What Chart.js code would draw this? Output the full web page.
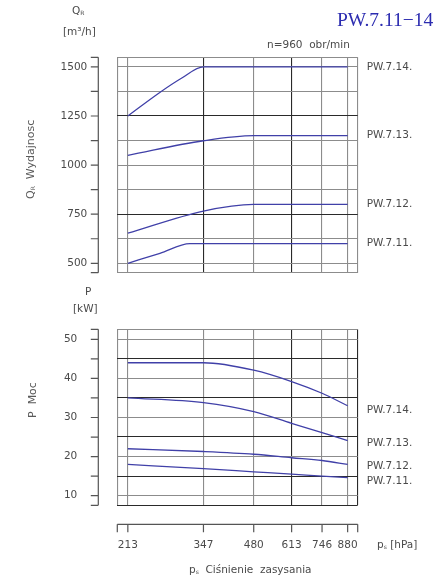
<!DOCTYPE html>
<html>
<head>
<meta charset="utf-8">
<script src="https://cdn.jsdelivr.net/npm/chart.js@4/dist/chart.umd.min.js"></script>
<style>
body{margin:0;background:#fff;width:443px;height:580px;overflow:hidden;position:relative;font-family:"DejaVu Sans",sans-serif;color:#4a4a4a}
canvas{position:absolute;left:0;top:0}
.t{position:absolute;font-size:10.5px;white-space:nowrap;line-height:1}
.t sub{font-size:6px;vertical-align:-1px}
.rot{transform:rotate(-90deg);transform-origin:0 0;color:#5a5a5a;font-size:11px}
#title{position:absolute;left:337px;top:9px;font-family:"Liberation Serif",serif;font-size:19.5px;color:#2c2cb0;white-space:nowrap}
</style>
</head>
<body>
<canvas id="qchart" width="443" height="580"></canvas>
<canvas id="pchart" width="443" height="580"></canvas>

<div id="title">PW.7.11−14</div>
<div class="t" style="left:267px;top:39px">n=960&nbsp; obr/min</div>

<div class="t" style="left:72px;top:5px">Q<sub>R</sub></div>
<div class="t" style="left:63px;top:26px">[m³/h]</div>
<div class="t rot" style="left:25px;top:199px">Q<sub>R</sub>&nbsp; Wydajnosc</div>

<div class="t" style="left:85px;top:286px">P</div>
<div class="t" style="left:73px;top:303px">[kW]</div>
<div class="t rot" style="left:27px;top:418px">P&nbsp; Moc</div>

<div class="t" style="left:377px;top:539px">p<sub>s</sub> [hPa]</div>
<div class="t" style="left:189px;top:564px">p<sub>s</sub>&nbsp; Ciśnienie&nbsp; zasysania</div>

<script>
// cisnienie zasysania p_s [hPa] (skala logarytmiczna)
var pressureTicks = [213, 347, 480, 613, 746, 880];
var names = ['PW.7.11.', 'PW.7.12.', 'PW.7.13.', 'PW.7.14.'];

// Q_R wydajnosc [m3/h]
var q11x = [213, 262, 318, 347, 480, 613, 746, 880];
var q11y = [500, 551, 600, 600, 600, 600, 600, 600];
var q12y = [653, 766, 800, 800, 800, 800];
var q13y = [1050, 1124, 1150, 1150, 1150, 1150];
var q14x = [213, 260, 301, 347, 480, 613, 746, 880];
var q14y = [1250, 1366, 1442, 1500, 1500, 1500, 1500, 1500];
var qTicks = [500, 625, 750, 875, 1000, 1125, 1250, 1375, 1500];
var qLabels = [500, 750, 1000, 1250, 1500];

// P moc [kW]
var p11 = [18.0, 16.9, 16.1, 15.5, 15.0, 14.6];
var p12 = [22.0, 21.3, 20.6, 19.7, 19.0, 18.0];
var p13 = [35.0, 33.8, 31.5, 28.5, 26.1, 24.1];
var p14 = [44.0, 44.0, 42.1, 39.2, 36.2, 33.0];
var pTicks = [10, 15, 20, 25, 30, 35, 40, 45, 50];
var pLabels = [10, 20, 30, 40, 50];

var lineColor = '#4040a8';
var gridGray = '#8c8c8c';
var gridDark = '#2a2a2a';
var textColor = '#4a4a4a';
var font = {family: '"DejaVu Sans", sans-serif', size: 10.5};

function pts(xs, ys){
    var out = [];
    for (var i = 0; i < xs.length; i++) out.push({x: xs[i], y: ys[i]});
    return out;
}

function ds(label, data){
    return {
        label: label,
        data: data,
        borderColor: lineColor,
        borderWidth: 1.3,
        pointRadius: 0,
        cubicInterpolationMode: 'monotone',
        fill: false
    };
}

// os y odsunieta od ramki + kreski, os x pod wykresem mocy
function axesPlugin(drawX, labelOffset){
    return {
        id: 'extraAxes',
        afterDraw: function(chart){
            var c = chart.ctx, a = chart.chartArea;
            var ys = chart.scales.y, xs = chart.scales.x;
            c.save();
            c.strokeStyle = '#555';
            c.lineWidth = 1.2;
            var ax = a.left - 19;
            c.beginPath();
            c.moveTo(ax, a.top); c.lineTo(ax, a.bottom);
            ys.ticks.forEach(function(t){
                var py = ys.getPixelForValue(t.value);
                c.moveTo(ax - 7.5, py); c.lineTo(ax, py);
            });
            if (drawX){
                var ay = a.bottom + 19;
                c.moveTo(a.left, ay); c.lineTo(a.right, ay);
                xs.ticks.forEach(function(t){
                    var px = xs.getPixelForValue(t.value);
                    c.moveTo(px, ay); c.lineTo(px, ay + 8);
                });
            }
            c.stroke();

            // nazwy wentylatorow przy koncach krzywych
            c.fillStyle = textColor;
            c.font = '10.5px "DejaVu Sans", sans-serif';
            c.textAlign = 'left';
            c.textBaseline = 'middle';
            chart.data.datasets.forEach(function(d, i){
                var last = d.data[d.data.length - 1];
                var py = ys.getPixelForValue(last.y) + labelOffset[i];
                c.fillText(d.label, a.right + 9, py);
            });
            c.restore();
        }
    };
}

function xScale(showLabels, darkSet){
    return {
        type: 'logarithmic',
        min: 199,
        max: 939,
        afterBuildTicks: function(s){
            s.ticks = [199].concat(pressureTicks, [939]).map(function(v){ return {value: v}; });
        },
        afterFit: function(s){ s.height = showLabels ? 50 : 0; },
        ticks: {
            display: showLabels,
            autoSkip: false,
            maxRotation: 0,
            padding: 34,
            color: textColor,
            font: font,
            callback: function(v){ return pressureTicks.indexOf(v) >= 0 ? String(v) : ''; }
        },
        grid: {
            drawTicks: false,
            lineWidth: 1.1,
            color: function(ctx){
                var v = ctx.tick ? ctx.tick.value : 0;
                return darkSet.indexOf(v) >= 0 ? gridDark : gridGray;
            }
        },
        border: {display: false}
    };
}

function yScale(min, max, ticks, labels, pad, darkSet){
    return {
        type: 'linear',
        min: min,
        max: max,
        afterBuildTicks: function(s){
            s.ticks = [min].concat(ticks, [max]).map(function(v){ return {value: v}; });
        },
        afterFit: function(s){ s.width = 60; },
        ticks: {
            autoSkip: false,
            padding: pad,
            color: textColor,
            font: font,
            callback: function(v){ return labels.indexOf(v) >= 0 ? String(v) : ''; }
        },
        grid: {
            drawTicks: false,
            lineWidth: 1.1,
            color: function(ctx){
                var v = ctx.tick ? ctx.tick.value : 0;
                return darkSet.indexOf(v) >= 0 ? gridDark : gridGray;
            }
        },
        border: {display: false}
    };
}

var qChart = new Chart(document.getElementById('qchart'), {
    type: 'line',
    data: {
        datasets: [
            ds(names[3], pts(q14x, q14y)),
            ds(names[2], pts(pressureTicks, q13y)),
            ds(names[1], pts(pressureTicks, q12y)),
            ds(names[0], pts(q11x, q11y))
        ]
    },
    options: {
        responsive: false,
        animation: false,
        layout: {padding: {left: 57.3, right: 85.3, top: 57.3, bottom: 307.3}},
        plugins: {legend: {display: false}, tooltip: {enabled: false}},
        scales: {
            x: xScale(false, [347, 613]),
            y: yScale(452, 1549, qTicks, qLabels, 30, [1250, 750])
        }
    },
    plugins: [axesPlugin(false, [0, 0, 0, 0])]
});

var pChart = new Chart(document.getElementById('pchart'), {
    type: 'line',
    data: {
        datasets: [
            ds(names[3], pts(pressureTicks, p14)),
            ds(names[2], pts(pressureTicks, p13)),
            ds(names[1], pts(pressureTicks, p12)),
            ds(names[0], pts(pressureTicks, p11))
        ]
    },
    options: {
        responsive: false,
        animation: false,
        layout: {padding: {left: 57.3, right: 85.3, top: 329.3, bottom: 24.7}},
        plugins: {legend: {display: false}, tooltip: {enabled: false}},
        scales: {
            x: xScale(true, [613, 939]),
            y: yScale(7.54, 52.56, pTicks, pLabels, 40, [45, 35, 25, 15, 7.54])
        }
    },
    plugins: [axesPlugin(true, [4, 3, 1.5, 3.5])]
});
</script>
</body>
</html>
